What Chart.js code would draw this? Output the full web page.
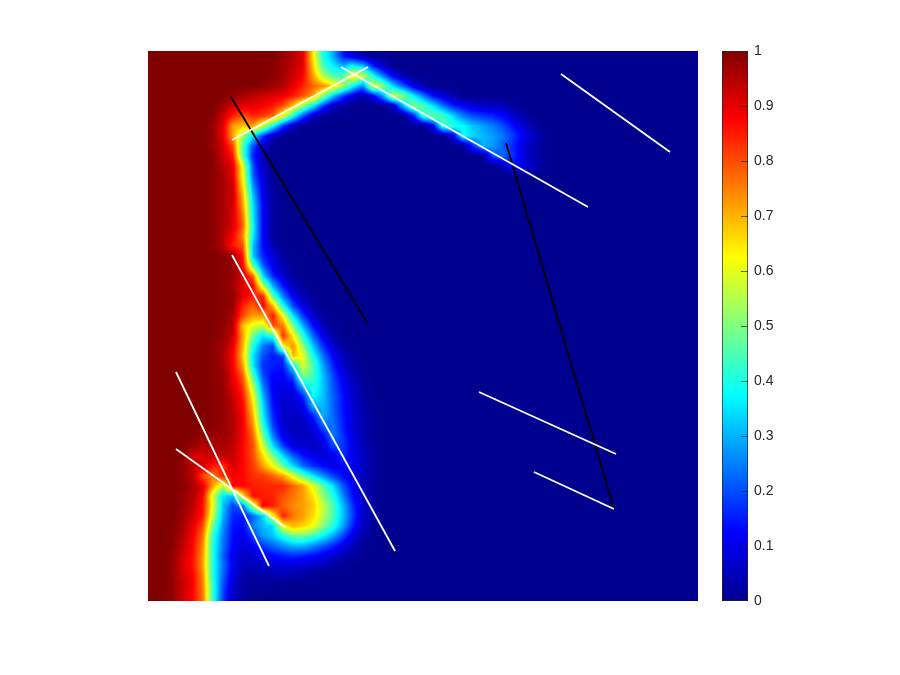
<!DOCTYPE html>
<html><head><meta charset="utf-8">
<style>html,body{margin:0;padding:0;background:#fff;overflow:hidden}
#wrap{position:relative;width:900px;height:675px}
#main{position:absolute;left:0;top:0}#bar{position:absolute;left:700px;top:0}</style>
<script src="https://cdn.jsdelivr.net/npm/chart.js@4"></script></head>
<body><div id="wrap"><canvas id="main" width="900" height="675"></canvas><canvas id="bar" width="200" height="675"></canvas></div>
<script>
// Field values in percent, read by eye on a 55x55 grid; a row's missing tail is 0.
const row00=[100,100,100,100,100,100,100,100,100,100,100,100,100,98,95,90,65,40,30,15,8,3];
const row01=[100,100,100,100,100,100,100,100,100,100,100,100,99,97,94,90,68,45,36,30,38,32,16,6];
const row02=[100,100,100,100,100,100,100,100,100,100,100,100,99,97,93,88,72,55,45,45,65,58,40,25,12,4];
const row03=[100,100,100,100,100,100,100,100,100,100,100,99,97,95,90,84,78,74,66,55,38,25,60,52,34,22,10,3];
const row04=[100,100,100,100,100,100,100,100,98,96,94,92,91,89,85,80,72,52,32,18,8,3,10,28,58,52,38,25,14,8,3];
const row05=[100,100,100,100,100,100,100,97,92,90,90,88,85,80,68,52,36,18,6,2,0,0,0,0,4,30,52,46,36,24,16,12,8,6,6,5,2];
const row06=[100,100,100,100,100,100,99,93,84,80,84,82,78,60,40,20,6,1,0,0,0,0,0,0,0,0,12,42,48,45,34,25,20,18,16,12,7,3];
const row07=[100,100,100,100,100,100,98,90,72,68,72,58,38,18,5,0,0,0,0,0,0,0,0,0,0,0,0,0,10,44,42,38,32,28,25,20,14,8,3];
const row08=[100,100,100,100,100,100,98,90,72,52,36,18,5,0,0,0,0,0,0,0,0,0,0,0,0,0,0,0,0,0,8,38,34,31,28,24,18,12,6,2];
const row09=[100,100,100,100,100,100,98,92,80,45,20,6,1,0,0,0,0,0,0,0,0,0,0,0,0,0,0,0,0,0,0,0,16,30,28,22,16,9,4,1];
const row10=[100,100,100,100,100,100,99,93,85,45,16,4,0,0,0,0,0,0,0,0,0,0,0,0,0,0,0,0,0,0,0,0,0,0,20,23,17,9,4,1];
const row11=[100,100,100,100,100,100,99,95,90,60,20,5,0,0,0,0,0,0,0,0,0,0,0,0,0,0,0,0,0,0,0,0,0,0,0,4,14,10,5,2];
const row12=[100,100,100,100,100,100,99,96,90,62,22,8,1];
const row13=[100,100,100,100,100,100,99,96,92,65,27,9,1];
const row14=[100,100,100,100,100,100,99,96,92,70,32,10,2];
const row15=[100,100,100,100,100,100,99,96,92,72,35,12,2];
const row16=[100,100,100,100,100,100,99,96,91,76,36,12,2];
const row17=[100,100,100,100,100,100,99,96,91,78,38,12,2];
const row18=[100,100,100,100,100,100,99,95,88,74,37,12,2];
const row19=[100,100,100,100,100,100,99,95,85,80,32,13,4];
const row20=[100,100,100,100,100,100,100,99,98,85,32,16,8,2];
const row21=[100,100,100,100,100,100,100,99,98,88,48,22,10,4,1];
const row22=[100,100,100,100,100,100,100,99,98,92,78,34,16,7,2];
const row23=[100,100,100,100,100,100,100,99,97,90,88,56,30,14,5,1];
const row24=[100,100,100,100,100,100,100,99,98,90,85,84,46,25,11,4,1];
const row25=[100,100,100,100,100,100,100,99,98,84,78,88,70,40,20,9,3];
const row26=[100,100,100,100,100,100,100,99,96,80,72,72,86,62,36,18,7,2];
const row27=[100,100,100,100,100,100,100,98,95,68,60,56,80,76,50,30,14,5,1];
const row28=[100,100,100,100,100,100,100,98,93,72,48,35,42,84,64,41,23,10,3];
const row29=[100,100,100,100,100,100,99,97,90,70,40,25,18,62,74,52,32,17,7,2];
const row30=[100,100,100,100,100,100,99,96,88,68,35,20,15,18,70,60,40,24,12,5,1];
const row31=[100,100,100,100,100,100,99,97,88,72,36,17,15,14,35,60,45,29,16,7,2];
const row32=[100,100,100,100,100,100,99,98,90,78,45,20,12,12,20,50,44,32,19,10,4,1];
const row33=[100,100,100,100,100,100,99,98,91,82,55,25,11,9,12,32,42,32,21,12,6,2];
const row34=[100,100,100,100,100,100,99,98,93,85,62,30,12,8,8,16,38,32,22,14,7,2];
const row35=[100,100,100,100,100,100,99,98,94,87,66,34,14,7,7,10,30,31,22,14,8,3,1];
const row36=[100,100,100,100,100,100,99,98,95,88,70,37,16,7,6,7,15,30,23,15,8,4,1];
const row37=[100,100,100,100,100,100,99,98,95,88,74,42,19,8,5,6,9,22,24,15,8,4,1];
const row38=[100,100,100,100,99,98,97,97,95,88,78,50,25,10,6,6,7,12,25,17,9,4,1];
const row39=[100,100,100,100,98,95,96,96,94,87,80,58,35,19,9,7,6,8,19,18,10,5,2];
const row40=[100,100,100,99,91,91,93,94,93,87,80,66,50,34,22,14,10,8,10,17,11,5,2];
const row41=[100,100,100,98,94,92,86,82,92,87,82,72,62,48,34,23,17,13,9,13,11,6,2];
const row42=[100,100,100,98,94,80,75,85,88,87,83,82,78,72,60,47,36,27,19,13,9,5,2];
const row43=[100,100,100,99,96,90,72,55,88,87,85,84,84,84,78,72,60,47,35,21,11,5,1];
const row44=[100,100,100,98,95,88,58,35,32,65,87,85,84,80,76,72,65,52,41,26,13,6,2];
const row45=[100,100,100,98,94,86,60,32,18,24,55,88,85,78,74,72,68,57,45,31,17,7,2];
const row46=[100,100,100,97,92,85,56,30,16,14,22,33,62,85,76,72,66,56,45,32,18,7,2];
const row47=[100,100,100,96,90,80,48,27,14,13,25,31,34,62,70,67,62,51,41,29,15,6,1];
const row48=[100,100,99,95,88,76,42,25,13,10,18,28,32,40,48,48,44,37,29,19,9,3];
const row49=[100,100,99,94,87,74,40,24,12,8,11,18,22,26,30,30,26,21,16,10,5,1];
const row50=[100,100,98,92,86,72,40,22,10,6,7,10,13,15,16,15,13,10,7,4,2];
const row51=[100,100,98,91,86,72,40,24,11,5,4,6,7,8,8,7,5,4,2,1];
const row52=[100,100,98,92,88,74,40,22,9,3,2,3,3,4,3,2,1];
const row53=[100,100,98,93,88,75,42,20,7,2,1,1];
const row54=[100,100,98,92,87,76,42,19,6,2];
const fieldRows=[row00,row01,row02,row03,row04,row05,row06,row07,row08,row09,row10,row11,row12,row13,row14,row15,row16,row17,row18,row19,row20,row21,row22,row23,row24,row25,row26,row27,row28,row29,row30,row31,row32,row33,row34,row35,row36,row37,row38,row39,row40,row41,row42,row43,row44,row45,row46,row47,row48,row49,row50,row51,row52,row53,row54];

// Segment end points, in grid units [x0,y0,x1,y1]
const whiteA=[8.4,8.9,22.0,1.6];
const whiteB=[19.3,1.6,44.0,15.6];
const whiteC=[41.3,2.3,52.2,10.1];
const whiteD=[8.4,20.4,24.7,50.0];
const whiteE=[2.8,32.1,12.1,51.5];
const whiteF=[2.8,39.8,13.7,47.6];
const whiteG=[33.1,34.1,46.8,40.3];
const whiteH=[38.6,42.1,46.6,45.8];
const blackI=[8.3,4.6,22.0,27.3];
const blackJ=[35.8,9.2,46.6,45.8];

const colourbarTicks=[0,0.1,0.2,0.3,0.4,0.5,0.6,0.7,0.8,0.9,1];
const jetStops=[[0,0,0,143],[0.125,0,0,255],[0.375,0,255,255],[0.625,255,255,0],[0.875,255,0,0],[1,128,0,0]];

function jet(v){
  v=Math.min(1,Math.max(0,v));
  for(let k=1;k<jetStops.length;k++){
    const a=jetStops[k-1],b=jetStops[k];
    if(v<=b[0]){const t=(v-a[0])/(b[0]-a[0]);
      return [a[1]+(b[1]-a[1])*t,a[2]+(b[2]-a[2])*t,a[3]+(b[3]-a[3])*t];}
  }
  return [128,0,0];
}
const cols=55,rowsN=fieldRows.length;
const cell=(i,j)=>((fieldRows[j][i]||0)/100);
const fieldData=[];
for(let j=0;j<rowsN;j++)for(let i=0;i<cols;i++)fieldData.push({x:i+0.5,y:j+0.5,v:cell(i,j)});
const seg=(s,colour)=>({type:'line',data:[{x:s[0],y:s[1]},{x:s[2],y:s[3]}],borderColor:colour,borderWidth:1.8,pointRadius:0,order:1,fill:false,clip:false});

// Shades the cells with jet colours between neighbouring cell centres.
const smoothField={id:'smoothField',afterDatasetDraw(chart,args){
  if(args.index!==0)return;
  const meta=chart.getDatasetMeta(0),a=chart.chartArea,pts=meta.data;
  const w=Math.round(a.right-a.left),h=Math.round(a.bottom-a.top);
  const off=document.createElement('canvas');off.width=w;off.height=h;
  const c=off.getContext('2d'),img=c.createImageData(w,h);
  const x0=pts[0].x,dx=pts[1].x-pts[0].x,y0=pts[0].y,dy=pts[cols].y-pts[0].y;
  for(let py=0;py<h;py++){
    let fy=(a.top+py+0.5-y0)/dy;fy=Math.max(0,Math.min(rowsN-1,fy));
    const j=Math.min(rowsN-2,Math.floor(fy)),ty=fy-j;
    for(let px=0;px<w;px++){
      let fx=(a.left+px+0.5-x0)/dx;fx=Math.max(0,Math.min(cols-1,fx));
      const i=Math.min(cols-2,Math.floor(fx)),tx=fx-i;
      const v=(cell(i,j)*(1-tx)+cell(i+1,j)*tx)*(1-ty)+(cell(i,j+1)*(1-tx)+cell(i+1,j+1)*tx)*ty;
      const col=jet(v),o=(py*w+px)*4;
      img.data[o]=col[0];img.data[o+1]=col[1];img.data[o+2]=col[2];img.data[o+3]=255;
    }
  }
  c.putImageData(img,0,0);
  chart.ctx.drawImage(off,a.left,a.top);
}};

new Chart(document.getElementById('main'),{
  type:'scatter',
  data:{datasets:[
    {label:'field',data:fieldData,order:10,pointStyle:'rect',borderWidth:0,pointBorderWidth:0,
     pointRadius:ctx=>ctx.chart.chartArea?(ctx.chart.chartArea.width/cols)/Math.SQRT2+0.2:7,
     pointBackgroundColor:ctx=>{const r=ctx.raw?jet(ctx.raw.v):[0,0,143];return `rgb(${r[0]|0},${r[1]|0},${r[2]|0})`;}},
    seg(whiteA,'#fff'),seg(whiteB,'#fff'),seg(whiteC,'#fff'),seg(whiteD,'#fff'),seg(whiteE,'#fff'),
    seg(whiteF,'#fff'),seg(whiteG,'#fff'),seg(whiteH,'#fff'),seg(blackI,'#000'),seg(blackJ,'#000')
  ]},
  options:{responsive:false,animation:false,events:[],
    layout:{padding:{left:148,right:202,top:51,bottom:74}},
    plugins:{legend:{display:false},tooltip:{enabled:false}},
    scales:{x:{type:'linear',min:0,max:55,display:false},y:{type:'linear',min:0,max:55,reverse:true,display:false}}},
  plugins:[smoothField]
});

const inwardTicks={id:'inwardTicks',afterDraw(chart){
  const a=chart.chartArea,s=chart.scales.y,c=chart.ctx;
  c.save();c.strokeStyle='#262626';c.lineWidth=1;c.globalAlpha=0.7;
  c.strokeRect(a.left+0.5,a.top+0.5,a.right-a.left-1,a.bottom-a.top-1);
  colourbarTicks.slice(1,-1).forEach(t=>{const y=Math.round(s.getPixelForValue(t))+0.5;
    c.beginPath();c.moveTo(a.right-7,y);c.lineTo(a.right,y);c.stroke();});
  c.restore();
}};
new Chart(document.getElementById('bar'),{
  type:'bar',
  data:{labels:['c'],datasets:[{data:[[0,1]],barPercentage:1,categoryPercentage:1,borderWidth:0,
    backgroundColor:ctx=>{const a=ctx.chart.chartArea;if(!a)return '#000';
      const g=ctx.chart.ctx.createLinearGradient(0,a.bottom,0,a.top);
      jetStops.forEach(s=>g.addColorStop(s[0],`rgb(${s[1]},${s[2]},${s[3]})`));return g;}}]},
  options:{responsive:false,animation:false,events:[],
    layout:{padding:{left:22,top:51,bottom:74,right:0}},
    plugins:{legend:{display:false},tooltip:{enabled:false}},
    scales:{x:{display:false},
      y:{position:'right',min:0,max:1,afterFit:s=>{s.width=152;},
        afterBuildTicks:s=>{s.ticks=colourbarTicks.map(v=>({value:v}));},
        grid:{display:false,drawTicks:false},border:{display:false},
        ticks:{padding:6,color:'#262626',font:{family:'"Liberation Sans",Arial,sans-serif',size:14},
          callback:v=>String(v)}}}},
  plugins:[inwardTicks]
});
</script></body></html>
